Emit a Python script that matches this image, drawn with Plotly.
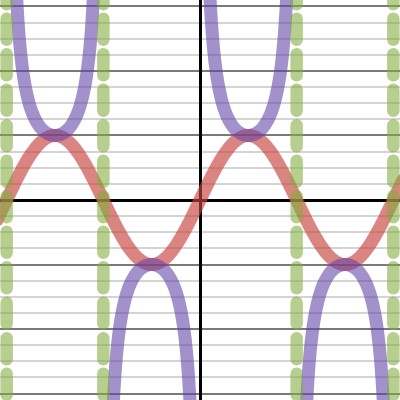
import numpy as np
import plotly.graph_objects as go

# ranges
x_range = [-6.5, 6.5]
y_range = [-3.1, 3.1]

# function parameters
sin_amplitude = 1.0
asymptotes = [-2 * np.pi, -np.pi, np.pi, 2 * np.pi]

x = np.linspace(-6.6, 6.6, 4001)
y_sin = sin_amplitude * np.sin(x)
with np.errstate(divide="ignore"):
    y_csc = 1.0 / np.sin(x)
y_csc[np.abs(y_csc) > 6] = np.nan

fig = go.Figure()
fig.add_trace(go.Scatter(x=x, y=y_sin, mode="lines",
                         line=dict(color="rgba(199,68,64,0.65)", width=13, simplify=False),
                         hoverinfo="skip"))
fig.add_trace(go.Scatter(x=x, y=y_csc, mode="lines",
                         line=dict(color="rgba(96,66,166,0.58)", width=13, simplify=False),
                         hoverinfo="skip"))
for a in asymptotes:
    fig.add_trace(go.Scatter(x=[a, a], y=[3.36, -4.5], mode="lines",
                             line=dict(color="rgba(130,170,60,0.58)", width=12.5, dash="21px,14.5px"),
                             hoverinfo="skip"))

fig.update_layout(
    width=400, height=400,
    margin=dict(l=0, r=0, t=0, b=0),
    paper_bgcolor="white", plot_bgcolor="white",
    showlegend=False,
    xaxis=dict(range=x_range, showgrid=False, zeroline=True, zerolinecolor="black",
               zerolinewidth=3, showticklabels=False, ticks="", fixedrange=True),
    yaxis=dict(range=y_range, showgrid=True, dtick=1, gridcolor="#7a7a7a", gridwidth=2,
               minor=dict(dtick=0.25, showgrid=True, gridcolor="#d4d4d4", gridwidth=2),
               zeroline=True, zerolinecolor="black", zerolinewidth=3,
               showticklabels=False, ticks="", fixedrange=True),
)
fig.write_html("out.html", config={"displayModeBar": False},
               post_script="document.body.style.margin='0';"
                           "document.querySelectorAll('.scatterlayer .js-line')"
                           ".forEach(function(p){p.style.strokeLinecap='round';p.style.strokeLinejoin='round';});")
